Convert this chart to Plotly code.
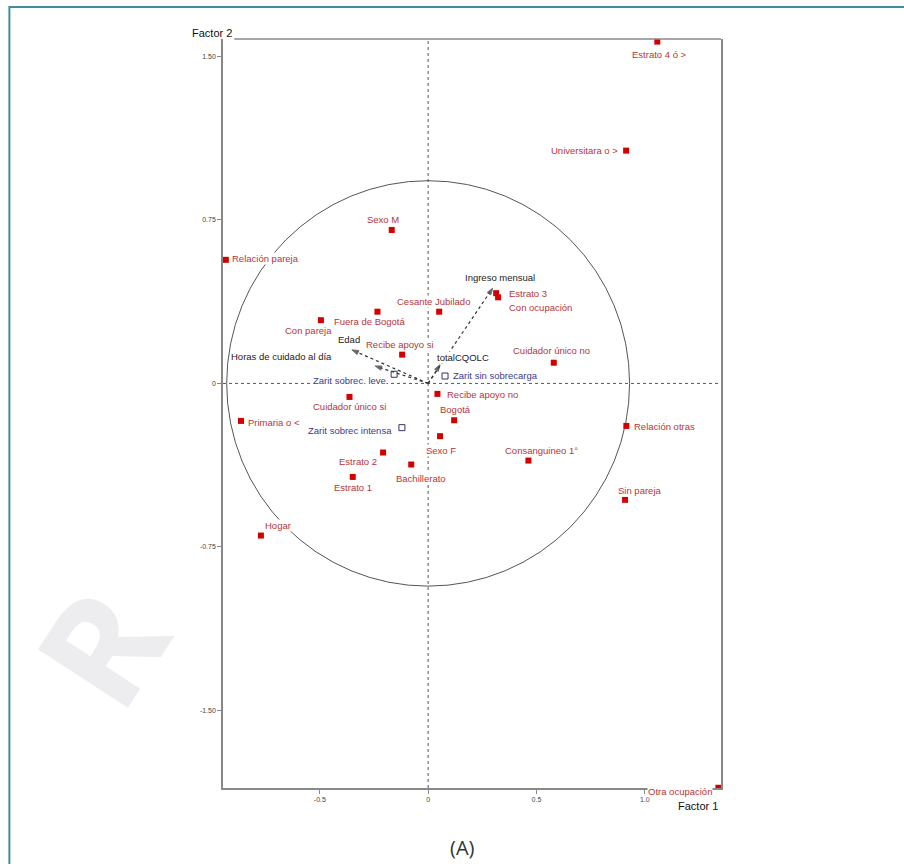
import plotly.graph_objects as go

# ---------------- data ----------------
cat_names = ["Estrato 4 ó >", "Universitara o >", "Sexo M", "Relación pareja",
             "Cesante Jubilado", "Fuera de Bogotá", "Con pareja", "Recibe apoyo si",
             "Estrato 3", "Con ocupación", "Cuidador único no", "Recibe apoyo no",
             "Cuidador único si", "Primaria o <", "Bogotá", "Relación otras",
             "Sexo F", "Consanguineo 1°", "Estrato 2", "Bachillerato",
             "Estrato 1", "Sin pareja", "Hogar", "Otra ocupación"]
cat_x = [1.058, 0.914, -0.168, -0.934, 0.051, -0.234, -0.495, -0.120,
         0.314, 0.323, 0.580, 0.043, -0.363, -0.864, 0.120, 0.915,
         0.055, 0.463, -0.208, -0.078, -0.348, 0.909, -0.772, 1.340]
cat_y = [1.568, 1.068, 0.704, 0.567, 0.329, 0.329, 0.290, 0.132,
         0.414, 0.395, 0.095, -0.048, -0.062, -0.172, -0.169, -0.195,
         -0.242, -0.354, -0.317, -0.372, -0.429, -0.534, -0.698, -1.855]

sup_names = ["Zarit sobrec. leve", "Zarit sin sobrecarga", "Zarit sobrec intensa"]
sup_x = [-0.157, 0.078, -0.121]
sup_y = [0.042, 0.034, -0.203]

vec_names = ["Ingreso mensual", "totalCQOLC", "Edad", "Horas de cuidado al día"]
vec_x = [0.298, 0.055, -0.352, -0.245]
vec_y = [0.437, 0.086, 0.154, 0.080]

x_ticks = [-0.5, 0, 0.5, 1.0]
x_ticktext = ["-0.5", "0", "0.5", "1.0"]
y_ticks = [1.5, 0.75, 0, -0.75, -1.5]
y_ticktext = ["1.50", "0.75", "0", "-0.75", "-1.50"]

circle_r = 0.93

# ---------------- label placement (anchor, dx px, dy px) ----------------
cat_place = [("center", 2, 13), ("right", -7, 0), ("center", -9, -10), ("left", 5, -1),
             ("center", -6, -10), ("center", -8, 10), ("center", -12, 10), ("center", -2, -10),
             ("left", 12, 0), ("left", 10, 10), ("center", -2, -12), ("left", 9, 1),
             ("center", 0, 10), ("left", 6, 2), ("center", 1, -11), ("left", 7, 1),
             ("center", 1, 14), ("center", 13, -10), ("center", -25, 9), ("center", 10, 14),
             ("center", 0, 11), ("center", 14, -9), ("center", 17, -10), ("right", -5, 4)]
sup_place = [("right", -7, 6), ("left", 7, -1), ("right", -9, 3)]
vec_place = [("center", 7, -11), ("left", -4, -7), ("center", -3, -10), ("right", -42, -9)]

XR = [-0.947, 1.352]
YR = [-1.856, 1.580]

LABEL_FONT = "Liberation Sans, Arial, sans-serif"
LABEL_SIZE = 9.5
RED_TXT = "#b5353b"
BLUE_TXT = "#3a3a8c"
BLACK_TXT = "#222222"

fig = go.Figure()

# vectors (dotted with arrowheads)
for vx, vy in zip(vec_x, vec_y):
    fig.add_trace(go.Scatter(
        x=[0, vx], y=[0, vy], mode="lines+markers",
        line=dict(color="#333333", width=1.2, dash="dot"),
        marker=dict(symbol=["circle", "arrow"], size=[0, 7], color="#222222",
                    angleref="previous"),
        hoverinfo="skip", showlegend=False))

# active categories
fig.add_trace(go.Scatter(
    x=cat_x, y=cat_y, mode="markers",
    marker=dict(symbol="square", size=6, color="#d40000"),
    text=cat_names, hoverinfo="text", showlegend=False))

# supplementary (Zarit)
fig.add_trace(go.Scatter(
    x=sup_x, y=sup_y, mode="markers",
    marker=dict(symbol="square-open", size=6, color="#333366", line=dict(width=1)),
    text=sup_names, hoverinfo="text", showlegend=False))

annotations = []


def add_labels(names, xs, ys, places, color):
    for n, x, y, (anc, dx, dy) in zip(names, xs, ys, places):
        annotations.append(dict(
            x=x, y=y, xref="x", yref="y", text=n, showarrow=False,
            xanchor=anc, yanchor="middle", xshift=dx, yshift=-dy,
            font=dict(family=LABEL_FONT, size=LABEL_SIZE, color=color),
            bgcolor="white", borderpad=0))


add_labels(cat_names, cat_x, cat_y, cat_place, RED_TXT)
add_labels(sup_names, sup_x, sup_y, sup_place, BLUE_TXT)
add_labels(vec_names, vec_x, vec_y, vec_place, BLACK_TXT)

# axis titles and caption
annotations += [
    dict(x=-0.0225, y=1.008, xref="paper", yref="paper", text="Factor 2", showarrow=False,
         xanchor="center", yanchor="middle",
         font=dict(family="Liberation Sans, Arial, sans-serif", size=11, color="#111111")),
    dict(x=0.998, y=-0.024, xref="paper", yref="paper", text="Factor 1", showarrow=False,
         xanchor="right", yanchor="middle",
         font=dict(family="Liberation Sans, Arial, sans-serif", size=11, color="#111111")),
    dict(x=0.480, y=-0.080, xref="paper", yref="paper", text="(A)", showarrow=False,
         xanchor="center", yanchor="middle",
         font=dict(family="Open Sans, sans-serif", size=20, color="#333333")),
    # faint watermark letter
    dict(x=-0.25, y=0.19, xref="paper", yref="paper", text="<b>R</b>", showarrow=False,
         textangle=-57, xanchor="center", yanchor="middle",
         font=dict(family="Open Sans, sans-serif", size=150, color="#ededf0")),
]

shapes = [
    # outer teal frame
    dict(type="rect", xref="paper", yref="paper", x0=-0.4289, x1=1.5, y0=-0.2, y1=1.0427,
         line=dict(color="#3d8f99", width=2), layer="below"),
    # correlation circle
    dict(type="circle", xref="x", yref="y", x0=-circle_r, x1=circle_r, y0=-circle_r, y1=circle_r,
         line=dict(color="#555555", width=1), layer="below"),
    # dotted axes through origin
    dict(type="line", xref="x", yref="paper", x0=0, x1=0, y0=0, y1=1,
         line=dict(color="#555555", width=1, dash="dot"), layer="below"),
    dict(type="line", xref="paper", yref="y", x0=0, x1=1, y0=0, y1=0,
         line=dict(color="#555555", width=1, dash="dot"), layer="below"),
    # top border (starts after "Factor 2")
    dict(type="line", xref="x", yref="paper", x0=-0.895, x1=XR[1], y0=1, y1=1,
         line=dict(color="#888888", width=1.5)),
]

fig.update_layout(
    width=904, height=864, autosize=False,
    margin=dict(l=223, r=183, t=39, b=76),
    paper_bgcolor="white", plot_bgcolor="white",
    annotations=annotations, shapes=shapes,
    xaxis=dict(range=XR, showgrid=False, zeroline=False, showline=True,
               linecolor="#888888", linewidth=1.5, ticks="outside", ticklen=4,
               tickcolor="#888888", tickvals=x_ticks, ticktext=x_ticktext,
               tickfont=dict(family="Liberation Sans, Arial, sans-serif", size=7, color="#444444")),
    yaxis=dict(range=YR, showgrid=False, zeroline=False, showline=True, mirror=True,
               linecolor="#888888", linewidth=1.5, ticks="outside", ticklen=4,
               tickcolor="#888888", tickvals=y_ticks, ticktext=y_ticktext,
               tickfont=dict(family="Liberation Sans, Arial, sans-serif", size=7, color="#444444")),
)

fig.write_html("out.html")
